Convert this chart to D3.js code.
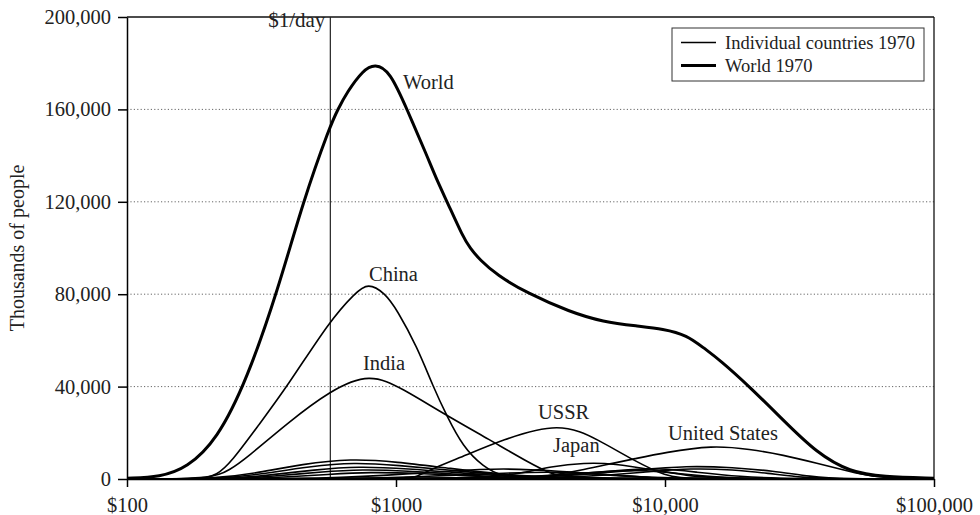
<!DOCTYPE html>
<html>
<head>
<meta charset="utf-8">
<script src="https://cdn.jsdelivr.net/npm/d3@7"></script>
<style>
  html, body { margin: 0; padding: 0; background: #fff; }
  svg { display: block; }
  text { font-family: "Liberation Serif", "DejaVu Serif", serif; fill: #222; }
</style>
</head>
<body>
<svg id="chart" width="980" height="515"></svg>
<script>
// ---------- data (income per person in $, population in thousands) ----------
const yTicks = [0, 40000, 80000, 120000, 160000, 200000];
const xTicks = [100, 1000, 10000, 100000];
const xTickLabels = ["$100", "$1000", "$10,000", "$100,000"];
const povertyLine = 570;

const world = [[100,300],[133,900],[167,4800],[216,16900],[279,42900],[364,81800],[451,120000],[569,153000],[608,160000],[658,167500],[754,177000],[836,179800],[950,176500],[1099,160000],[1303,140000],[1419,129400],[1549,120000],[1774,104800],[1884,100000],[2052,94800],[2372,88300],[3069,80500],[4436,72300],[5888,68000],[7870,66200],[9840,65000],[12080,62300],[14000,56500],[16000,51500],[20700,39800],[27500,25500],[36700,11200],[48750,3000],[64600,900],[100000,300]];

const china = [[100,0],[190,0],[215,1500],[245,7500],[307,23000],[394,40000],[569,68800],[705,80500],[787,85000],[910,80500],[1009,73200],[1197,57300],[1374,40000],[1549,27000],[1774,14000],[2104,5300],[2500,1000],[3000,0],[100000,0]];

const india = [[100,0],[205,0],[241,3900],[279,9200],[394,24100],[569,38300],[800,46000],[1062,39000],[1496,28400],[2234,16900],[3148,6800],[3800,2000],[4500,0],[100000,0]];

const ussr = [[100,0],[1100,0],[1197,1000],[1374,4600],[1832,10400],[2438,16600],[4070,25000],[5728,16600],[7600,8200],[10160,1000],[12000,0],[100000,0]];

const japan = [[100,0],[2000,0],[2800,2000],[3800,5500],[5000,7000],[6500,6700],[9000,4000],[12000,1500],[16000,0],[100000,0]];

const unitedStates = [[100,0],[3000,0],[3800,1500],[5000,4000],[6500,7000],[7600,8600],[10000,11500],[15000,14600],[20700,12900],[27500,10400],[36700,6800],[48750,3200],[58000,1200],[75000,0],[100000,0]];

const otherCountries = [
  [[100,0],[215,0],[300,2500],[450,6500],[680,8800],[1000,7500],[1600,4500],[2500,2000],[4000,0],[100000,0]],
  [[100,0],[225,0],[310,2000],[480,5500],[700,7200],[1000,6000],[1700,3500],[2800,1200],[4200,0],[100000,0]],
  [[100,0],[235,0],[330,1500],[500,4000],[720,5500],[1100,4500],[1800,2500],[2800,800],[3800,0],[100000,0]],
  [[100,0],[245,0],[350,1200],[520,3000],[750,4200],[1100,3500],[1700,2000],[2600,500],[3500,0],[100000,0]],
  [[100,0],[260,0],[380,800],[560,2000],[800,3000],[1200,2500],[1900,1300],[3200,0],[100000,0]],
  [[100,0],[500,0],[900,1500],[1600,3500],[2500,4700],[4000,3500],[6500,1500],[10000,0],[100000,0]],
  [[100,0],[700,0],[1200,1000],[2500,2500],[3800,3200],[6000,2000],[9000,500],[13000,0],[100000,0]],
  [[100,0],[2500,0],[4500,1500],[8000,4000],[12000,5700],[18000,5000],[25000,3500],[35000,1000],[45000,0],[100000,0]],
  [[100,0],[3000,0],[5000,1000],[8500,3000],[12500,4700],[18000,4000],[24000,2500],[33000,600],[42000,0],[100000,0]],
  [[100,0],[2500,0],[4000,1500],[7000,4000],[9500,4700],[13000,3000],[19000,1000],[28000,0],[100000,0]],
  [[100,0],[2000,0],[3500,1200],[6000,3200],[8000,4000],[11000,2500],[16000,700],[24000,0],[100000,0]]
];

const labels = [
  {text: "World", x: 403, y: 89},
  {text: "China", x: 369, y: 281},
  {text: "India", x: 363, y: 370},
  {text: "USSR", x: 538, y: 419},
  {text: "Japan", x: 553, y: 452},
  {text: "United States", x: 668, y: 440}
];

// ---------- layout ----------
const W = 980, H = 515;
const m = {left: 127, top: 17, right: 46, bottom: 36};
const x0 = m.left, x1 = W - m.right, y0 = H - m.bottom, y1 = m.top;

const svg = d3.select("#chart");
const x = d3.scaleLog().domain([100, 100000]).range([x0, x1]);
const y = d3.scaleLinear().domain([0, 200000]).range([y0, y1]);

// gridlines
svg.append("g").selectAll("line")
  .data(yTicks.filter(d => d > 0 && d < 200000))
  .join("line")
  .attr("x1", x0).attr("x2", x1)
  .attr("y1", d => y(d)).attr("y2", d => y(d))
  .attr("stroke", "#666").attr("stroke-width", 1)
  .attr("stroke-dasharray", "1.2,2.2");

// frame top & right
svg.append("line").attr("x1", x0).attr("x2", x1).attr("y1", y1).attr("y2", y1)
  .attr("stroke", "#111").attr("stroke-width", 1.3);
svg.append("line").attr("x1", x1).attr("x2", x1).attr("y1", y1).attr("y2", y0)
  .attr("stroke", "#111").attr("stroke-width", 1.3);

// $1/day line
svg.append("line").attr("x1", x(povertyLine)).attr("x2", x(povertyLine))
  .attr("y1", y1).attr("y2", y0).attr("stroke", "#222").attr("stroke-width", 1.2);
svg.append("text").attr("x", x(povertyLine) - 5).attr("y", 27)
  .attr("text-anchor", "end").attr("font-size", 21).text("$1/day");

// curves
const line = d3.line().x(d => x(d[0])).y(d => y(d[1])).curve(d3.curveBasis);
const thin = [...otherCountries, china, india, ussr, japan, unitedStates];
const gc = svg.append("g");
gc.selectAll("path.thin").data(thin).join("path").attr("class", "thin")
  .attr("d", line).attr("fill", "none").attr("stroke", "#000").attr("stroke-width", 1.6);
gc.append("path").datum(world).attr("d", line)
  .attr("fill", "none").attr("stroke", "#000").attr("stroke-width", 3);

// axes
const yAxis = d3.axisLeft(y).tickValues(yTicks).tickFormat(d3.format(","))
  .tickSize(9).tickSizeOuter(0).tickPadding(7);
const gy = svg.append("g").attr("transform", `translate(${x0},0)`).call(yAxis);
const xAxis = d3.axisBottom(x).tickValues(xTicks).tickFormat((d, i) => xTickLabels[i])
  .tickSize(8).tickSizeOuter(0).tickPadding(7);
const gx = svg.append("g").attr("transform", `translate(0,${y0})`).call(xAxis);
[gy, gx].forEach(g => {
  g.selectAll(".domain").attr("stroke", "#000").attr("stroke-width", 1.5);
  g.selectAll(".tick line").attr("stroke", "#000").attr("stroke-width", 1.5);
  g.selectAll("text").attr("font-family", "Liberation Serif, serif").attr("font-size", 20.5).attr("fill", "#222");
});
gx.selectAll("text").attr("dy", "0.9em");

// axis title
svg.append("text").attr("transform", `translate(24,${(y0 + y1) / 2}) rotate(-90)`)
  .attr("text-anchor", "middle").attr("font-size", 20).text("Thousands of people");

// curve labels
svg.append("g").selectAll("text").data(labels).join("text")
  .attr("x", d => d.x).attr("y", d => d.y).attr("font-size", 20.5).text(d => d.text);

// legend
const lg = svg.append("g");
lg.append("rect").attr("x", 672).attr("y", 28).attr("width", 252).attr("height", 53)
  .attr("fill", "#fff").attr("stroke", "#333").attr("stroke-width", 1);
const legendItems = [{t: "Individual countries 1970", w: 1.6, y: 42.5}, {t: "World 1970", w: 3, y: 65.5}];
legendItems.forEach(it => {
  lg.append("line").attr("x1", 681).attr("x2", 716).attr("y1", it.y).attr("y2", it.y)
    .attr("stroke", "#000").attr("stroke-width", it.w);
  lg.append("text").attr("x", 725).attr("y", it.y + 6.5).attr("font-size", 18.5).text(it.t);
});
</script>
</body>
</html>
